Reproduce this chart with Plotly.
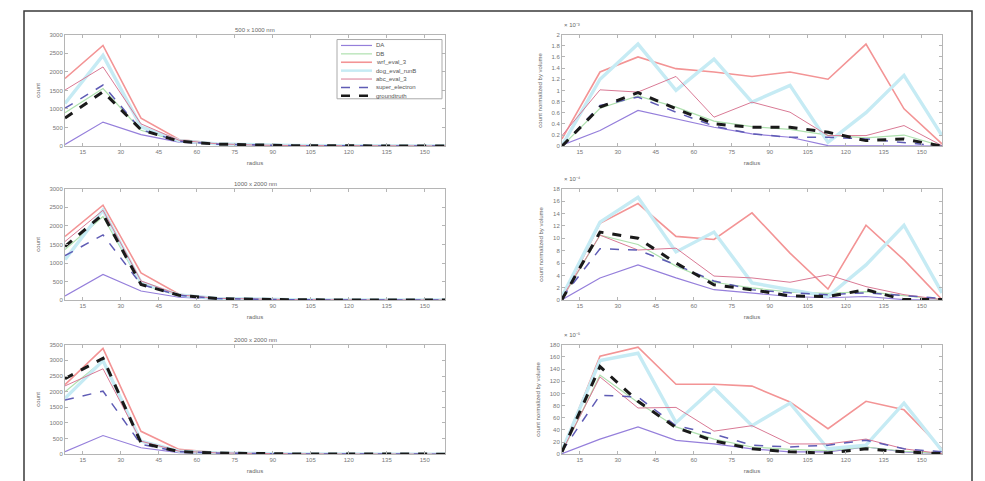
import plotly.graph_objects as go

W, H = 985, 481

radius = [8, 23, 38, 53, 68, 83, 98, 113, 128, 143, 158]
x_ticks = [15, 30, 45, 60, 75, 90, 105, 120, 135, 150]

series_names = ["DA", "DB", "wrf_eval_3", "dog_eval_runB", "abc_eval_3", "super_electron", "groundtruth"]
panel_titles = ["500 x 1000 nm", "1000 x 2000 nm", "2000 x 2000 nm"]
exp_labels = ["× 10⁻³", "× 10⁻⁴", "× 10⁻⁵"]

# counts (left column)
count_top = [
    [44, 648, 310, 110, 45, 20, 12, 8, 6, 5, 4],
    [900, 1550, 430, 130, 55, 25, 15, 10, 8, 6, 5],
    [1820, 2708, 755, 178, 70, 35, 22, 15, 12, 10, 8],
    [1150, 2442, 520, 150, 62, 30, 18, 12, 10, 8, 6],
    [1510, 2131, 600, 160, 65, 30, 18, 12, 10, 8, 6],
    [1021, 1643, 444, 133, 55, 25, 15, 10, 8, 6, 5],
    [755, 1465, 444, 133, 55, 25, 15, 10, 8, 6, 5],
]
count_mid = [
    [115, 693, 249, 80, 30, 15, 10, 8, 6, 5, 4],
    [1360, 2250, 430, 120, 45, 20, 12, 9, 7, 6, 5],
    [1714, 2557, 737, 160, 60, 28, 18, 12, 10, 8, 6],
    [1092, 2424, 480, 140, 50, 22, 14, 10, 8, 6, 5],
    [1580, 2420, 520, 145, 52, 24, 15, 10, 8, 6, 5],
    [1199, 1758, 426, 133, 44, 20, 12, 9, 7, 6, 5],
    [1447, 2309, 426, 133, 44, 20, 12, 9, 7, 6, 5],
]
count_bot = [
    [84, 599, 210, 53, 25, 12, 8, 6, 5, 4, 3],
    [1995, 2990, 400, 84, 40, 20, 12, 9, 7, 6, 5],
    [2226, 3381, 735, 158, 53, 28, 18, 12, 10, 8, 6],
    [1785, 2992, 420, 100, 45, 22, 14, 10, 8, 6, 5],
    [2184, 2730, 420, 100, 45, 22, 14, 10, 8, 6, 5],
    [1733, 2016, 315, 84, 40, 20, 12, 9, 7, 6, 5],
    [2415, 3066, 368, 84, 40, 20, 12, 9, 7, 6, 5],
]

# normalized by volume (right column, scaled by the exponent label)
norm_top = [
    [0.02, 0.28, 0.64, 0.49, 0.34, 0.22, 0.16, 0.01, 0.01, 0.0, 0.0],
    [0.0, 0.68, 0.9, 0.7, 0.45, 0.35, 0.3, 0.2, 0.15, 0.2, 0.0],
    [0.13, 1.33, 1.6, 1.39, 1.33, 1.25, 1.33, 1.2, 1.83, 0.67, 0.04],
    [0.01, 1.2, 1.83, 1.0, 1.56, 0.79, 1.09, 0.07, 0.6, 1.27, 0.19],
    [0.19, 1.01, 0.97, 1.25, 0.52, 0.79, 0.61, 0.19, 0.19, 0.37, 0.01],
    [0.0, 0.73, 0.88, 0.61, 0.36, 0.22, 0.16, 0.16, 0.13, 0.07, 0.0],
    [0.0, 0.70, 0.96, 0.67, 0.40, 0.34, 0.34, 0.25, 0.10, 0.13, 0.0],
]
norm_mid = [
    [0.1, 3.6, 5.7, 3.6, 1.7, 1.2, 0.6, 0.4, 0.6, 0.1, 0.0],
    [0.2, 10.5, 9.0, 5.5, 2.9, 2.0, 1.3, 1.1, 1.4, 0.7, 0.1],
    [0.1, 12.4, 15.6, 10.3, 9.8, 14.1, 7.6, 1.8, 12.1, 6.5, 0.1],
    [0.6, 12.6, 16.6, 7.8, 11.0, 2.8, 1.7, 0.6, 5.7, 12.1, 1.2],
    [0.4, 10.5, 8.1, 8.4, 3.9, 3.6, 2.9, 4.1, 2.2, 0.9, 0.1],
    [0.4, 8.3, 8.1, 5.7, 3.1, 1.7, 1.2, 0.9, 1.2, 0.8, 0.3],
    [0.1, 11.0, 10.0, 6.0, 2.5, 1.7, 0.7, 0.6, 1.7, 0.1, 0.1],
]
norm_bot = [
    [1, 25, 45, 23, 17, 9, 4, 4, 12, 4, 1],
    [3, 130, 85, 45, 25, 12, 8, 6, 12, 5, 1],
    [5, 161, 176, 115, 115, 112, 86, 42, 87, 73, 9],
    [6, 154, 166, 52, 109, 47, 84, 9, 15, 84, 6],
    [5, 127, 76, 77, 38, 47, 17, 17, 25, 9, 1],
    [5, 97, 94, 47, 33, 15, 12, 15, 23, 9, 4],
    [4, 144, 87, 44, 22, 9, 4, 2, 9, 4, 1],
]

left_y = [(3000, 500), (3000, 500), (3500, 500)]
right_y = [(2, 0.2), (18, 2), (180, 20)]

styles = [
    dict(color="#957fdb", width=1.2, dash="solid"),
    dict(color="#aee0ae", width=1.2, dash="solid"),
    dict(color="#f39495", width=1.6, dash="solid"),
    dict(color="#c6ebf4", width=3.4, dash="solid"),
    dict(color="#d97a95", width=1.0, dash="solid"),
    dict(color="#5f5cb5", width=1.5, dash="dash"),
    dict(color="#1a1a1a", width=3.0, dash="dash"),
]

# pixel layout
left_x = (65, 445)
right_x = (562, 942)
rows_y = [(32, 145), (188, 301), (346, 457)]

def xd(a, b):
    return [a / W, b / W]

def yd(top, bot):
    return [1 - bot / H, 1 - top / H]

fig = go.Figure()
tick_font = dict(family="Liberation Sans, Arial", size=6, color="#777")
lab_font = dict(family="Liberation Sans, Arial", size=6, color="#666")

count_data = [count_top, count_mid, count_bot]
norm_data = [norm_top, norm_mid, norm_bot]

annotations = []
shapes = []
ax_i = 0
for r in range(3):
    for c in range(2):
        ax_i += 1
        xa = "x" if ax_i == 1 else f"x{ax_i}"
        ya = "y" if ax_i == 1 else f"y{ax_i}"
        data = count_data[r] if c == 0 else norm_data[r]
        for s in range(7):
            fig.add_trace(go.Scatter(
                x=radius, y=data[s], mode="lines", name=series_names[s],
                line=styles[s], xaxis=xa, yaxis=ya, showlegend=False,
                hoverinfo="x+y+name"))
        xr = left_x if c == 0 else right_x
        top, bot = rows_y[r]
        ymax, ystep = left_y[r] if c == 0 else right_y[r]
        common = dict(showline=True, linecolor="#b5b5b5", linewidth=1, mirror="ticks",
                      ticks="inside", ticklen=3, tickcolor="#b5b5b5",
                      showgrid=False, zeroline=False, tickfont=tick_font)
        ytitle = "count" if c == 0 else "count normalized by volume"
        fig.update_layout(**{
            ("xaxis" if ax_i == 1 else f"xaxis{ax_i}"): dict(
                domain=xd(*xr), anchor=ya, range=[8, 158], tickvals=x_ticks,
                title=dict(text="radius", font=lab_font, standoff=6), **common),
            ("yaxis" if ax_i == 1 else f"yaxis{ax_i}"): dict(
                domain=yd(top, bot), anchor=xa, range=[0, ymax], dtick=ystep,
                title=dict(text=ytitle, font=lab_font, standoff=8), **common),
        })
        cx = (xr[0] + xr[1]) / 2 / W
        if c == 0:
            annotations.append(dict(text=panel_titles[r], x=cx, y=1 - (top - 5) / H, xref="paper", yref="paper",
                                    showarrow=False, font=lab_font, xanchor="center", yanchor="middle"))
        else:
            annotations.append(dict(text=exp_labels[r], x=xr[0] / W, y=1 - (top - 10) / H, xref="paper", yref="paper",
                                    showarrow=False, font=lab_font, xanchor="left", yanchor="middle"))

# manual legend inside top-left panel
lg_x0, lg_x1, lg_y0, lg_y1 = 337, 442, 37, 97
shapes.append(dict(type="rect", xref="paper", yref="paper", x0=lg_x0 / W, x1=lg_x1 / W,
                   y0=1 - lg_y1 / H, y1=1 - lg_y0 / H, line=dict(color="#aaa", width=1),
                   fillcolor="white", layer="above"))
for s in range(7):
    yy = 1 - (43 + s * 8.5) / H
    st = styles[s]
    shapes.append(dict(type="line", xref="paper", yref="paper", x0=341 / W, x1=372 / W, y0=yy, y1=yy,
                       line=dict(color=st["color"], width=min(st["width"], 2.5), dash=st["dash"]),
                       layer="above"))
    annotations.append(dict(text=series_names[s], x=374 / W, y=yy, xref="paper", yref="paper",
                            showarrow=False, font=dict(family="Liberation Sans, Arial", size=6, color="#555"),
                            xanchor="left", yanchor="middle"))

# figure border
shapes.append(dict(type="rect", xref="paper", yref="paper", x0=24 / W, x1=972 / W,
                   y0=-0.05, y1=1 - 8 / H, line=dict(color="#3a3a3a", width=1.5), layer="below"))

fig.update_layout(width=W, height=H, margin=dict(l=0, r=0, t=0, b=0),
                  paper_bgcolor="white", plot_bgcolor="white",
                  annotations=annotations, shapes=shapes, showlegend=False)

fig.write_html("out.html")
